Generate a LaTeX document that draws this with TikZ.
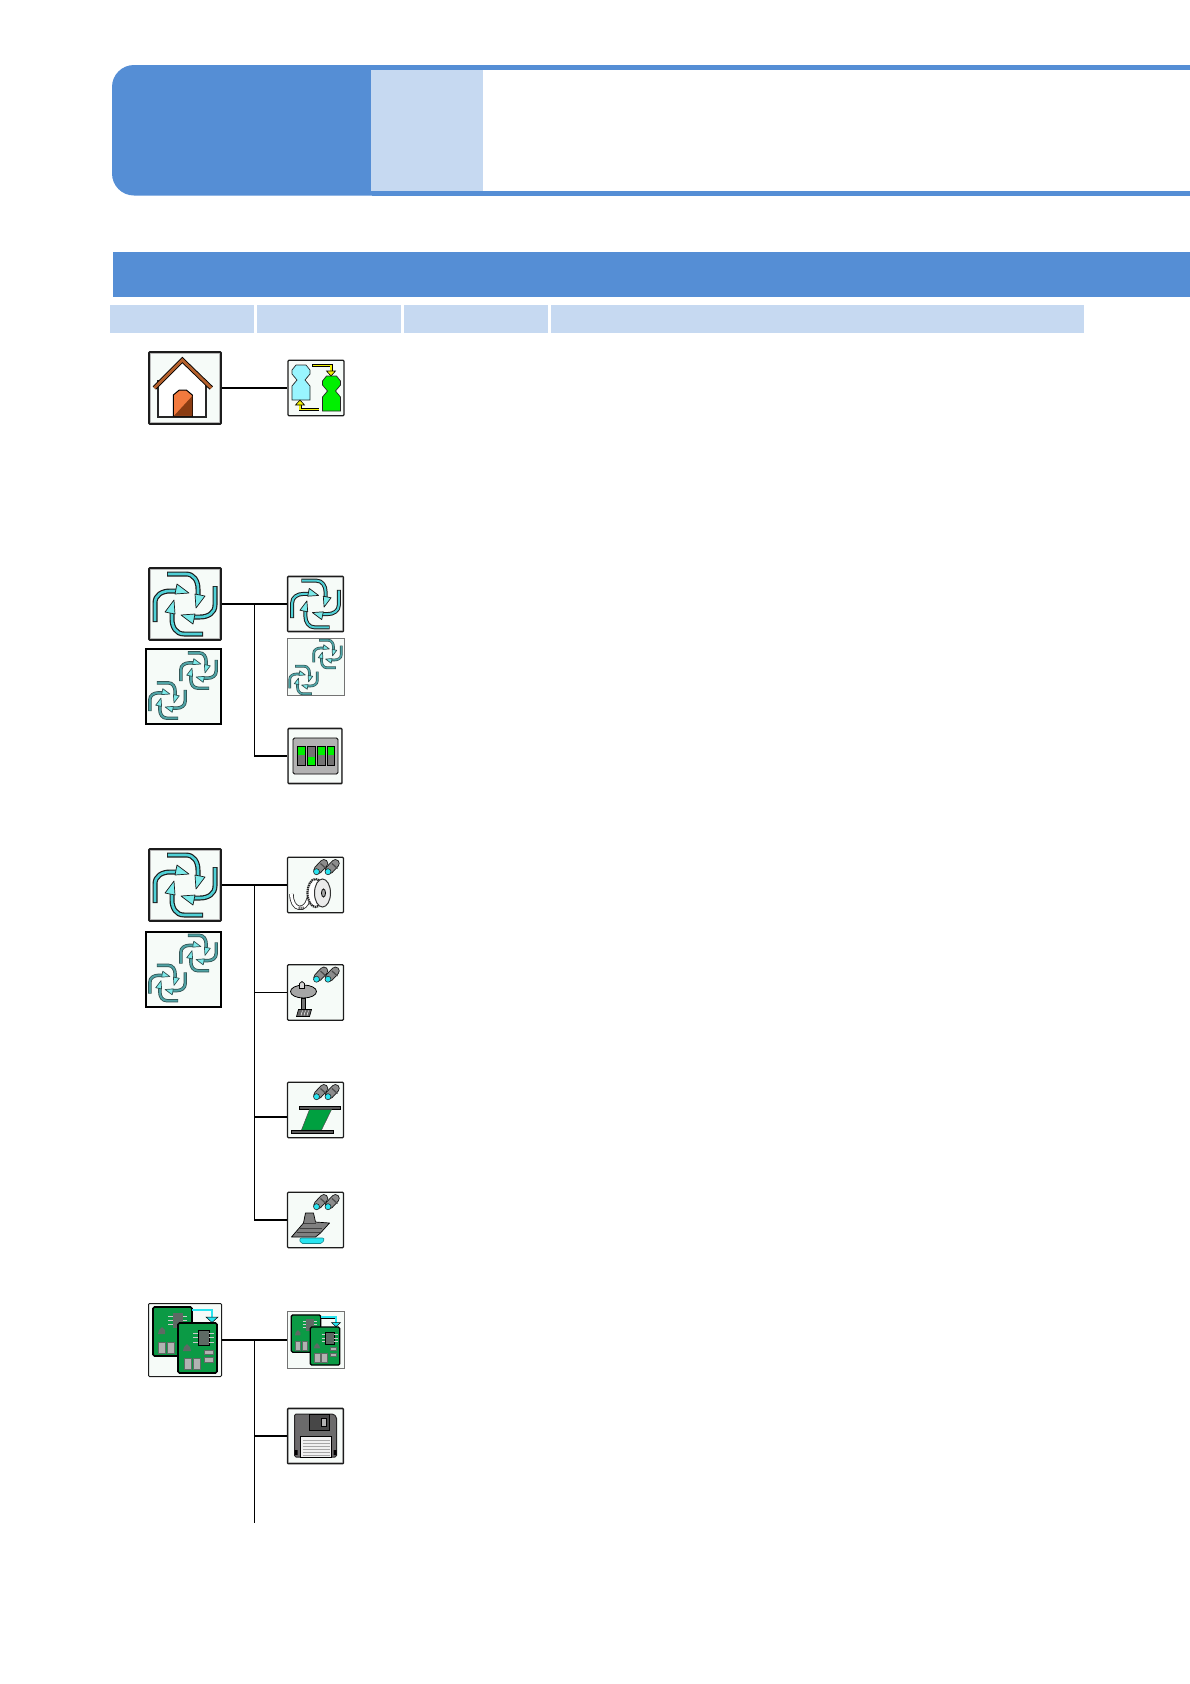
\documentclass[tikz,border=0pt]{standalone}
\definecolor{hblue}{HTML}{558ED5}
\definecolor{hlight}{HTML}{C6D9F1}
\definecolor{iconbg}{HTML}{F6FBF8}
\definecolor{bevel}{HTML}{B8B8B8}
\definecolor{edge}{HTML}{1C1C1C}
\definecolor{swirlmid}{HTML}{4FD0D6}
\definecolor{swirltip}{HTML}{7CEAEA}
\definecolor{swirlgrey}{HTML}{4FA3A5}
\definecolor{swirlline}{HTML}{2F4F4F}
\definecolor{roof}{HTML}{B4602C}
\definecolor{doorA}{HTML}{F27A3E}
\definecolor{doorB}{HTML}{8A3C12}
\definecolor{pcbgreen}{HTML}{0B9A45}
\definecolor{partgrey}{HTML}{5E6A64}
\definecolor{lens}{HTML}{28E4F0}
\definecolor{paleblue}{HTML}{99F5FF}
\definecolor{brightgreen}{HTML}{00F000}
\definecolor{arrowyellow}{HTML}{F0F000}
\definecolor{mountgreen}{HTML}{00A040}
\newcommand{\pcbpart}[4]{\fill[black!30,draw=partgrey,line width=.6pt] (#1,#2) rectangle (#3,#4);}
\tikzset{
 bigicon/.style={draw=edge,line width=1.9pt,fill=bevel,rounded corners=1pt,minimum width=72pt,minimum height=72pt,inner sep=0pt},
 bigplain/.style={draw=black,line width=2pt,fill=iconbg,minimum width=75pt,minimum height=75pt,inner sep=0pt},
 bigpcbframe/.style={draw=edge,line width=1pt,fill=iconbg,rounded corners=1pt,minimum width=73pt,minimum height=73pt,inner sep=0pt},
 smallicon/.style={draw=edge,line width=1.4pt,fill=bevel,rounded corners=1pt,minimum width=56pt,minimum height=55.5pt,inner sep=0pt},
 smallplain/.style={draw=edge,line width=1.1pt,fill=iconbg,rounded corners=1pt,minimum width=56pt,minimum height=55.5pt,inner sep=0pt},
 smallthin/.style={draw=black!55,line width=.7pt,fill=iconbg,minimum width=57pt,minimum height=57pt,inner sep=0pt},
 wire/.style={draw=black,line width=1.3pt},
 wirebold/.style={draw=black,line width=1.8pt},
 pics/inset/.style={code={\fill[iconbg] (-#1,-#1) rectangle (#1,#1);}},
 pics/swirl/.style n args={4}{code={
   \foreach \a in {0,90,180,270}{
    \begin{scope}[rotate=\a]
     \draw[#4,line width=#1,line join=round] (-18,-30) -- (1,-30) .. controls (9,-30) and (13,-23) .. (13,-15) -- (13,-7);
     \draw[#3,line width=#2] (-17.2,-30) -- (1,-30) .. controls (9,-30) and (13,-23) .. (13,-15) -- (13,-7);
     \fill[swirltip,draw=#4,line width=.7pt,line join=round] (10,-10) -- (20,-8) -- (11,4) -- cycle;
    \end{scope}}
 }},
 pics/house/.style={code={
   \fill[white] (-25,-8) -- (-2,-27) -- (21,-8) -- (21,29) -- (-25,29) -- cycle;
   \draw[black!85,line width=2.2pt] (-26,-8) -- (-26,29) -- (22,29) -- (22,-8);
   \draw[black,line width=4.6pt,line join=miter] (-30,0) -- (-2,-28) -- (27,0);
   \draw[roof,line width=2.8pt,line join=miter] (-30,0) -- (-2,-28) -- (27,0);
   \path[fill=doorA,draw=black,line width=1pt] (-11,28) -- (-11,7) -- (-5,2) -- (2,2) -- (8,7) -- (8,28) -- cycle;
   \fill[doorB] (8,8) -- (8,27.5) -- (-10,27.5) -- cycle;
 }},
 pics/person/.style={code={
   \path[fill=#1,draw=black!85,line width=.7pt] (-20,-23) -- (-10,-23) -- (-6,-18) -- (-6,-14) -- (-11,-8) -- (-6,-2) -- (-6,12) -- (-24,12) -- (-24,-2) -- (-19,-8) -- (-24,-14) -- (-24,-18) -- cycle;
 }},
 pics/people/.style={code={
   \pic at (0,0) {person=paleblue};
   \pic at (30.5,11) {person=brightgreen};
   \draw[black,line width=3pt] (-4,-22.5) -- (15,-22.5) -- (15,-17);
   \draw[arrowyellow,line width=1.6pt] (-3.5,-22.5) -- (15,-22.5) -- (15,-17);
   \fill[arrowyellow,draw=black,line width=.6pt] (10.5,-17) -- (19.5,-17) -- (15,-12) -- cycle;
   \draw[black,line width=3pt] (3,21.5) -- (-16,21.5) -- (-16,17);
   \draw[arrowyellow,line width=1.6pt] (2.5,21.5) -- (-16,21.5) -- (-16,17);
   \fill[arrowyellow,draw=black,line width=.6pt] (-20.5,17) -- (-11.5,17) -- (-16,12) -- cycle;
 }},
 pics/switches/.style={code={
   \path[fill=black!30,draw=black,line width=.8pt,rounded corners=1.5pt] (-22,-18) rectangle (23,18);
   \foreach \l/\r/\u in {-18/-10/1,-8/0/0,2/10/1,12/19.5/1}{
    \fill[black!55,draw=black,line width=.6pt] (\l,-10) rectangle (\r,9);
    \ifnum\u=1 \fill[brightgreen] (\l+.5,-9.5) rectangle (\r-.5,-1);
    \else \fill[brightgreen] (\l+.5,.5) rectangle (\r-.5,8.5); \fi
   }
 }},
 pics/binoc/.style={code={
   \draw[black,line width=3pt] (7,-18) -- (18,-18);
   \foreach \x in {0,11.5}{
    \draw[black!90,line width=8.6pt,line cap=round] (2.2+\x,-15) -- (8.4+\x,-21.6);
    \draw[black!45,line width=6.8pt,line cap=round] (2.2+\x,-15) -- (8.4+\x,-21.6);
    \draw[black!70,line width=1.2pt] (5+\x,-21.5) -- (10.5+\x,-16.5);
    \fill[lens,draw=black!85,line width=.6pt] (1+\x,-13.3) circle (3);
   }
 }},
 pics/reel/.style={code={
   \pic at (0,0) {binoc};
   \draw[black!85,line width=4.4pt] (-24,9) .. controls (-24,26) and (-10,27) .. (-7,14) -- (-3,4);
   \draw[white,line width=2.8pt] (-24,9) .. controls (-24,26) and (-10,27) .. (-7,14) -- (-3,4);
   \draw[black!85,line width=3pt,dash pattern=on 1pt off 1pt] (-17,23) -- (-11,23) (-7,14) -- (-3,4);
   \path[fill=white,draw=black!85,line width=2.2pt,dash pattern=on 1.4pt off .7pt] (0,8) ellipse (8 and 14);
   \path[fill=black!8,draw=black!80,line width=1pt] (7,8) ellipse (8 and 14);
   \path[fill=black!35,draw=black,line width=.8pt] (8,8) ellipse (2 and 4);
 }},
 pics/nozzle/.style={code={
   \pic at (0,0) {binoc};
   \path[fill=black!55,draw=black,line width=.7pt] (-14,6) rectangle (-10.5,17);
   \path[fill=black!35,draw=black,line width=.8pt] (-12,-1) ellipse (13 and 6.5);
   \path[fill=black!15,draw=black,line width=.7pt] (-16,-4) -- (-16,-9) -- (-13.5,-11) -- (-11,-9) -- (-11,-4) -- cycle;
   \path[fill=black!60,draw=black,line width=.7pt] (-17,17) -- (-4,17) -- (-6,24) -- (-19,24) -- cycle;
   \foreach \x in {-13,-10,-7}{\draw[white,line width=.5pt] (\x,18) -- (\x-1.5,23);}
 }},
 pics/mount/.style={code={
   \pic at (0,0) {binoc};
   \fill[black!65] (-16,-3) rectangle (25,-.5);
   \draw[black,line width=.6pt] (-16,-3.5) rectangle (25,-.5);
   \fill[mountgreen,draw=black!70,line width=.5pt] (-6,-.5) -- (16,-.5) -- (6,20) -- (-14,20) -- cycle;
   \fill[black!65] (-24,20.5) rectangle (18,23);
   \draw[black,line width=.6pt] (-24,20) rectangle (18,23);
 }},
 pics/press/.style={code={
   \pic at (0,0) {binoc};
   \path[fill=lens,draw=lens!60!black,line width=.6pt,rounded corners=2pt] (-16,18) -- (9,18) -- (7,23.5) -- (-15,23.5) -- cycle;
   \path[fill=black!50,draw=black,line width=.7pt,line join=round] (-10,-7) -- (-2,-7) -- (0,2) -- (14,3) -- (5,13) -- (0,17) -- (-24,17) -- (-18,10) -- (-12,3) -- cycle;
   \draw[black!75,line width=.5pt] (-12,3) -- (0,3) (-16,8) -- (6,8) (-19,12) -- (4,12);
 }},
 pics/pcb/.style={code={
   \path[fill=pcbgreen,draw=black,line width=#1,rounded corners=1.5pt] (-32,-33) rectangle (7,16);
   \draw[black,line width=2.8pt] (7,-30) -- (27,-30) -- (27,-22);
   \draw[lens,line width=1.5pt] (7,-30) -- (27,-30) -- (27,-22);
   \fill[lens,draw=black,line width=.5pt] (21,-23) -- (33,-23) -- (27,-17.5) -- cycle;
   \fill[partgrey] (-12,-27) rectangle (-2,-12);
   \foreach \y in {-24,-20,-16}{\draw[white!80!black,line width=1pt] (-17,\y) -- (-12,\y) (-2,\y) -- (2,\y);}
   \fill[partgrey] (-26,-10) -- (-23,-13) -- (-20,-10) -- (-20,-6) -- (-27,-6) -- cycle;
   \pcbpart{-27}{2}{-20}{13}
   \pcbpart{-18}{2}{-11}{13}
   \path[fill=pcbgreen,draw=black,line width=#1,rounded corners=1.5pt] (-7,-17) rectangle (32,33);
   \fill[partgrey,draw=black,line width=.4pt] (13,-10) rectangle (24,5);
   \foreach \y in {-7,-2.5,2}{\draw[white!80!black,line width=1pt] (8,\y) -- (13,\y) (24,\y) -- (29,\y);}
   \fill[partgrey] (-1,7) -- (2,4) -- (5,7) -- (6,11) -- (-2,11) -- cycle;
   \pcbpart{-1}{18}{6}{29}
   \pcbpart{8}{18}{15}{29}
   \pcbpart{19}{10}{28}{14}
   \pcbpart{19}{17}{28}{22}
 }},
 pics/floppy/.style={code={
   \path[fill=black!58,draw=black!85,line width=1pt,rounded corners=1.5pt] (-21,-22) -- (18,-22) -- (21,-19) -- (21,21) -- (-21,21) -- cycle;
   \path[fill=black!72,draw=black,line width=.7pt] (-6,-21.5) rectangle (14,-6);
   \path[fill=black!30,draw=black,line width=.5pt] (6,-18) rectangle (11,-10);
   \path[fill=black!6,draw=black,line width=.7pt] (-15,0) rectangle (16,21);
   \foreach \y in {4,7,10,13,16,19}{\draw[black!35,line width=.6pt] (-13,\y) -- (14,\y);}
   \fill[black] (-21,14) rectangle (-18,19) (18,14) rectangle (21,19);
 }}
}
\begin{document}
\begin{tikzpicture}[x=1pt,y=-1pt]
\useasboundingbox (0,0) rectangle (1190,1684);
% header
\fill[hblue,rounded corners=22pt] (112,65) rectangle (420,195.5);
\fill[hblue] (372,65) rectangle (1190,195.5);
\fill[white] (483,70) rectangle (1190,191);
\fill[hlight] (371,70) rectangle (483,191);
\fill[hblue] (113,252) rectangle (1190,297);
\fill[hlight] (110,305) rectangle (254,333);
\fill[hlight] (257,305) rectangle (401,333);
\fill[hlight] (404,305) rectangle (548,333);
\fill[hlight] (551,305) rectangle (1084,333);
% group 1
\node[bigicon] (home) at (185,388) {};
\pic at (home) {inset=33.6};
\pic at ([xshift=-.7pt]home.center) {house};
\node[smallplain] (people) at (316,388) {};
\pic at (people) {people};
\draw[wire] (home.east) -- (people.west);
% group 2
\node[bigicon] (loopA) at (185,604) {};
\pic at (loopA) {inset=33.6};
\pic at (loopA) {swirl={5pt}{2.6pt}{swirlmid}{edge}};
\node[bigplain] (multiA) at (183.5,686.5) {};
\pic[scale=.59] at (198.5,670.5) {swirl={3.4pt}{1.9pt}{swirlgrey}{swirlline}};
\pic[scale=.59] at (167.5,700.5) {swirl={3.4pt}{1.9pt}{swirlgrey}{swirlline}};
\node[smallicon] (loopB) at (315.5,604) {};
\pic at (loopB) {inset=26.4};
\pic[scale=.78] at (loopB) {swirl={4pt}{2pt}{swirlmid}{edge}};
\node[smallthin] (multiB) at (315.5,667) {};
\pic[scale=.46] at (327.5,654) {swirl={2.7pt}{1.5pt}{swirlgrey}{swirlline}};
\pic[scale=.46] at (303.5,680) {swirl={2.7pt}{1.5pt}{swirlgrey}{swirlline}};
\node[smallicon,minimum width=54pt] (dip) at (315,756) {};
\pic at (dip) {inset=25.6};
\pic at (dip) {switches};
\coordinate (t2) at (254.7,604);
\draw[wirebold] (loopA.east) -- (loopB.west);
\draw[wire] (t2) |- (dip.west);
% group 3
\node[bigicon] (loopC) at (185,885) {};
\pic at (loopC) {inset=33.6};
\pic at (loopC) {swirl={5pt}{2.6pt}{swirlmid}{edge}};
\node[bigplain] (multiC) at (183.5,969) {};
\pic[scale=.59] at (198.5,953) {swirl={3.4pt}{1.9pt}{swirlgrey}{swirlline}};
\pic[scale=.59] at (167.5,983) {swirl={3.4pt}{1.9pt}{swirlgrey}{swirlline}};
\node[smallplain] (tape) at (315.5,885) {};
\pic at (tape) {reel};
\node[smallplain] (head) at (315.5,992.5) {};
\pic at (head) {nozzle};
\node[smallplain] (green) at (315.5,1110) {};
\pic at (green) {mount};
\node[smallplain] (stage) at (315.5,1220) {};
\pic at (stage) {press};
\coordinate (t3) at (254.7,885);
\coordinate (greenport) at ([yshift=-7pt]green.west);
\draw[wirebold] (loopC.east) -- (tape.west);
\draw[wire] (t3) |- (head.west);
\draw[wire] (t3) |- (greenport);
\draw[wire] (t3) |- (stage.west);
% group 4
\node[bigpcbframe] (boardA) at (185,1340) {};
\pic at (boardA) {pcb=1.6pt};
\node[smallthin] (boardB) at (315.5,1340) {};
\pic[scale=.76] at (boardB) {pcb=1.3pt};
\node[smallicon] (disk) at (315.5,1436) {};
\pic at (disk) {inset=26.4};
\pic at (disk) {floppy};
\coordinate (t4) at (254.7,1340);
\coordinate (t4end) at (254.7,1523);
\draw[wirebold] (boardA.east) -- (t4);
\draw[wire] (t4) -- (boardB.west);
\draw[wire] (t4) |- (disk.west);
\draw[wire] (t4) -- (t4end);
\end{tikzpicture}
\end{document}
